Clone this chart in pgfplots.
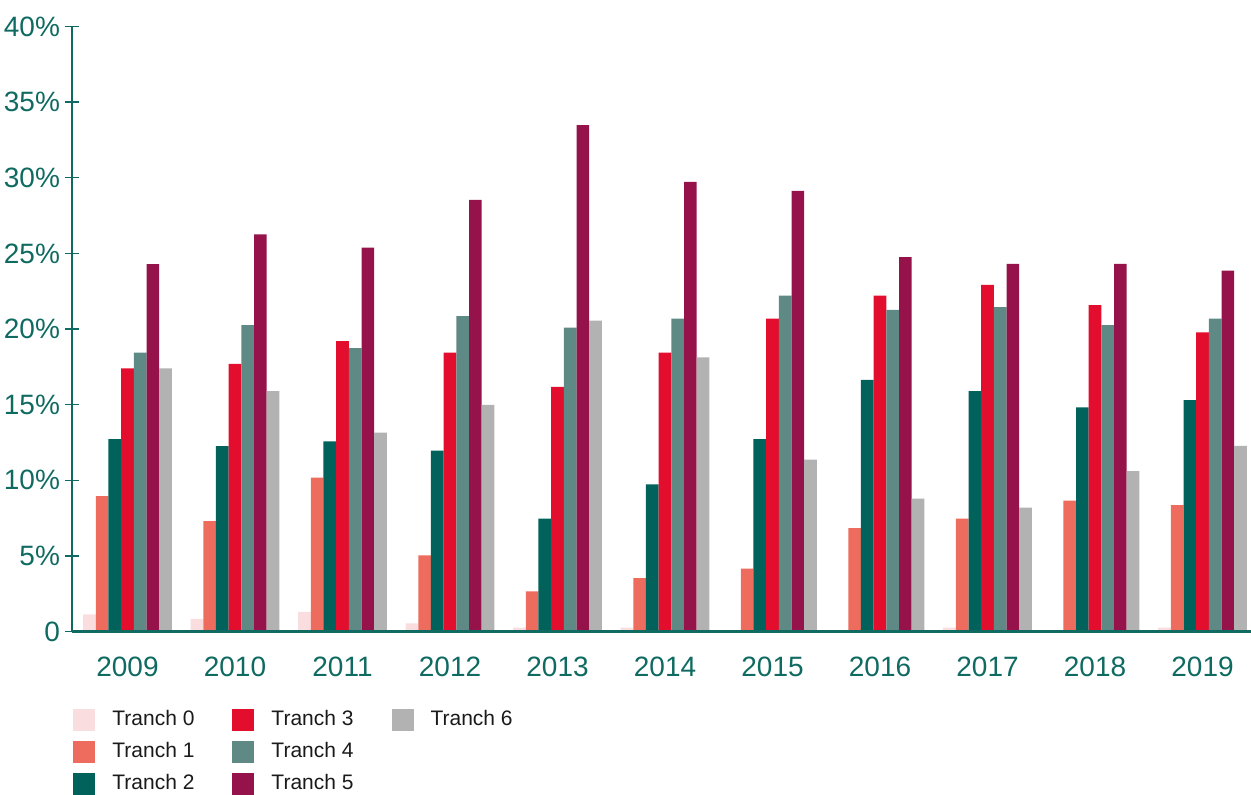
\documentclass[border=0pt]{standalone}
\usepackage{fontspec}
\setmainfont{Liberation Sans}
\usepackage{pgfplots}
\pgfplotsset{compat=1.18}
\definecolor{axisc}{RGB}{15,106,97}
\definecolor{legtext}{RGB}{26,26,26}
\definecolor{c0}{RGB}{250,222,223}
\definecolor{c1}{RGB}{237,108,94}
\definecolor{c2}{RGB}{0,98,90}
\definecolor{c3}{RGB}{227,14,45}
\definecolor{c4}{RGB}{95,137,132}
\definecolor{c5}{RGB}{149,19,74}
\definecolor{c6}{RGB}{178,178,178}
\begin{document}
\begin{tikzpicture}
\path[use as bounding box] (0,0) rectangle (625.5pt,397pt);
\begin{axis}[
  at={(36pt,81.25pt)}, anchor=south west,
  scale only axis, width=589.5pt, height=302.5pt,
  xmin=-0.5163, xmax=10.451, ymin=0, ymax=40,
  axis x line=bottom, axis y line=left, axis on top,
  axis line style={-, draw=axisc, line width=1.3pt},
  ybar=0pt, bar width=0.118,
  xtick={0,...,10},
  xticklabels={2009,2010,2011,2012,2013,2014,2015,2016,2017,2018,2019},
  xtick style={draw=none},
  ytick={0,5,...,40},
  yticklabels={0,5\%,10\%,15\%,20\%,25\%,30\%,35\%,40\%},
  ytick style={draw=axisc, line width=0.7pt},
  major tick length=7pt, tick align=center,
  /pgf/number format/assume math mode=true,
  ticklabel style={font=\fontsize{14}{16}\selectfont, text=axisc},
  xticklabel style={yshift=-5.5pt},
  yticklabel style={xshift=1pt},
  legend columns=3,
  legend entries={Tranch 0,Tranch 3,Tranch 6,Tranch 1,Tranch 4,\mbox{},Tranch 2,Tranch 5},
  legend style={draw=none, fill=none, at={(0,0)}, anchor=north west,
    xshift=0.5pt, yshift=-38.75pt, inner sep=0pt, row sep=5pt,
    font=\fontsize{10.5}{12}\selectfont, text=legtext,
    nodes={inner sep=0pt},
    /tikz/every odd column/.append style={column sep=8.5pt},
    /tikz/every even column/.append style={column sep=19pt}},
  legend image code/.code={\fill[#1] (0pt,-6.25pt) rectangle (11pt,4.75pt);},
]
\addlegendimage{fill=c0, draw=none}
\addlegendimage{fill=c3, draw=none}
\addlegendimage{fill=c6, draw=none}
\addlegendimage{fill=c1, draw=none}
\addlegendimage{fill=c4, draw=none}
\addlegendimage{empty legend}
\addlegendimage{fill=c2, draw=none}
\addlegendimage{fill=c5, draw=none}
\addplot[fill=c0, draw=none] coordinates {(0,1.14) (1,0.83) (2,1.29) (3,0.54) (4,0.25) (5,0.25) (6,0) (7,0) (8,0.25) (9,0) (10,0.25)};
\addplot[fill=c1, draw=none] coordinates {(0,8.95) (1,7.30) (2,10.18) (3,5.04) (4,2.66) (5,3.53) (6,4.15) (7,6.83) (8,7.46) (9,8.66) (10,8.35)};
\addplot[fill=c2, draw=none] coordinates {(0,12.72) (1,12.25) (2,12.57) (3,11.96) (4,7.46) (5,9.73) (6,12.72) (7,16.63) (8,15.89) (9,14.82) (10,15.29)};
\addplot[fill=c3, draw=none] coordinates {(0,17.39) (1,17.70) (2,19.20) (3,18.44) (4,16.18) (5,18.44) (6,20.69) (7,22.21) (8,22.92) (9,21.58) (10,19.78)};
\addplot[fill=c4, draw=none] coordinates {(0,18.44) (1,20.25) (2,18.73) (3,20.85) (4,20.09) (5,20.69) (6,22.21) (7,21.27) (8,21.45) (9,20.25) (10,20.69)};
\addplot[fill=c5, draw=none] coordinates {(0,24.29) (1,26.25) (2,25.38) (3,28.53) (4,33.48) (5,29.73) (6,29.13) (7,24.75) (8,24.31) (9,24.31) (10,23.86)};
\addplot[fill=c6, draw=none] coordinates {(0,17.39) (1,15.89) (2,13.15) (3,14.98) (4,20.56) (5,18.13) (6,11.36) (7,8.79) (8,8.19) (9,10.60) (10,12.28)};
\end{axis}
\end{tikzpicture}
\end{document}
